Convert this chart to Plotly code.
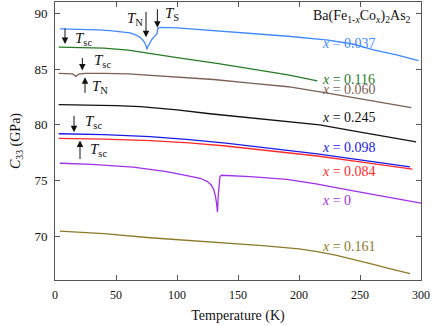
import plotly.graph_objects as go

# temperature (K) and C33 (GPa) for each Co content x
T_000 = [4, 30, 64, 91.5, 105, 119, 125, 128, 130, 131.5, 132.5, 133.2, 133.8, 134.4, 135.2, 136.5, 160, 190, 214, 240, 270, 300]
C_000 = [76.55, 76.45, 76.2, 75.8, 75.5, 75.2, 74.9, 74.6, 74.2, 73.6, 72.9, 72.15, 73.6, 74.9, 75.35, 75.47, 75.35, 75.1, 74.7, 74.15, 73.55, 72.96]

T_037 = [4, 20, 35, 45, 55, 61.5, 66, 69.7, 72, 73.5, 74.7, 75.4, 76.2, 77.5, 79.5, 82, 83.6, 84.3, 86, 100, 134, 165, 191, 224, 245, 261, 280, 298]
C_037 = [88.63, 88.61, 88.55, 88.47, 88.38, 88.27, 88.1, 87.87, 87.62, 87.4, 87.1, 86.8, 87.05, 87.35, 87.7, 88.0, 88.2, 88.68, 88.76, 88.72, 88.43, 88.2, 87.97, 87.62, 87.25, 86.75, 86.3, 85.78]

T_060 = [3, 10, 14.5, 17, 19.5, 25, 40, 60, 78, 100, 130, 160, 191, 221, 247, 270, 292]
C_060 = [84.64, 84.63, 84.58, 84.36, 84.56, 84.63, 84.64, 84.58, 84.45, 84.3, 84.08, 83.75, 83.43, 82.9, 82.41, 81.95, 81.55]

T_084 = [3, 18, 20.5, 23, 40, 78, 110, 140, 176, 215, 250, 293]
C_084 = [78.78, 78.77, 78.72, 78.76, 78.72, 78.58, 78.38, 78.1, 77.69, 77.2, 76.68, 76.03]

T_098 = [3, 13, 15.5, 18, 40, 78, 110, 140, 176, 215, 250, 291]
C_098 = [79.2, 79.19, 79.14, 79.17, 79.12, 78.95, 78.68, 78.35, 77.9, 77.4, 76.85, 76.22]

T_116 = [3, 20, 40, 60, 78, 100, 134, 160, 191, 215]
C_116 = [87.0, 86.97, 86.9, 86.72, 86.4, 86.05, 85.5, 85.05, 84.5, 83.95]

T_161 = [4, 40, 78, 127, 170, 200, 215, 230, 245, 260, 275, 291]
C_161 = [70.45, 70.22, 69.85, 69.5, 69.15, 68.85, 68.6, 68.28, 67.9, 67.48, 67.05, 66.62]

T_245 = [3, 30, 50, 70, 100, 127, 155, 184, 217, 242, 270, 296]
C_245 = [81.83, 81.8, 81.74, 81.64, 81.35, 81.0, 80.7, 80.4, 80.0, 79.5, 78.95, 78.47]

series = [
    ('0.037', T_037, C_037, '#4088ff', 87.35),
    ('0.116', T_116, C_116, '#267a26', 84.12),
    ('0.060', T_060, C_060, '#7d5f58', 83.2),
    ('0.245', T_245, C_245, '#111111', 80.62),
    ('0.098', T_098, C_098, '#1a1ae6', 78.0),
    ('0.084', T_084, C_084, '#ff2a2a', 75.8),
    ('0', T_000, C_000, '#a030e8', 73.2),
    ('0.161', T_161, C_161, '#8c7a2a', 69.05),
]

fnt = 'Liberation Serif'

fig = go.Figure()
for name, t, c, col, ylab in series:
    fig.add_trace(go.Scatter(x=t, y=c, mode='lines', line=dict(color=col, width=1.3),
                             name='x = ' + name, showlegend=False))
    fig.add_annotation(x=217, y=ylab, text='<i>x</i> = ' + name, showarrow=False,
                       xanchor='left', yanchor='middle', font=dict(family=fnt, size=14, color=col))

fig.add_annotation(x=293.5, y=89.75, text='Ba(Fe<sub>1-<i>x</i></sub>Co<sub><i>x</i></sub>)<sub>2</sub>As<sub>2</sub>',
                   showarrow=False, xanchor='right', yanchor='middle', font=dict(family=fnt, size=14, color='#111'))

# arrows: (head T, head C, ay offset px)
arrows = [(74.6, 87.87, -27), (83.9, 88.74, -20), (8.2, 87.28, -17), (22.4, 84.88, -14),
          (24.6, 84.28, 17), (15.6, 79.34, -18), (20.5, 78.59, 20)]
for x, y, ay in arrows:
    fig.add_annotation(x=x, y=y, ax=0, ay=ay, text='', showarrow=True, arrowhead=2,
                       arrowsize=1.3, arrowwidth=1, arrowcolor='#111', standoff=0)

labels = [(57.4, 89.55, '<i>T</i><sub>N</sub>'), (88.8, 90.0, '<i>T</i><sub>S</sub>'),
          (14.8, 87.75, '<i>T</i><sub>sc</sub>'), (30, 85.7, '<i>T</i><sub>sc</sub>'),
          (28.7, 83.4, '<i>T</i><sub>N</sub>'), (23.2, 80.3, '<i>T</i><sub>sc</sub>'),
          (27.3, 77.75, '<i>T</i><sub>sc</sub>')]
for x, y, txt in labels:
    fig.add_annotation(x=x, y=y, text=txt, showarrow=False, xanchor='left', yanchor='middle',
                       font=dict(family=fnt, size=15, color='#111'))

axcol = '#555555'
fig.update_layout(width=436, height=326, margin=dict(l=55, r=15, t=2, b=46),
                  plot_bgcolor='white', paper_bgcolor='white',
                  font=dict(family=fnt, color='#111'))
fig.update_xaxes(range=[0, 300], tickvals=[0, 50, 100, 150, 200, 250, 300], showgrid=False, zeroline=False,
                 showline=True, linecolor=axcol, linewidth=1, mirror='ticks', ticks='inside', ticklen=5,
                 tickcolor=axcol, tickfont=dict(size=12, family=fnt), ticklabelstandoff=4,
                 title=dict(text='Temperature (K)', font=dict(size=14, family=fnt), standoff=8))
fig.update_yaxes(range=[66.05, 91.05], tickvals=[70, 75, 80, 85, 90], showgrid=False, zeroline=False,
                 showline=True, linecolor=axcol, linewidth=1, mirror='ticks', ticks='inside', ticklen=5,
                 tickcolor=axcol, tickfont=dict(size=13, family=fnt), ticklabelstandoff=4,
                 title=dict(text='<i>C</i><sub>33</sub> (GPa)', font=dict(size=14, family=fnt), standoff=10))

fig.write_html("out.html", config={'displayModeBar': False},
               post_script="document.body.style.margin='0';")
